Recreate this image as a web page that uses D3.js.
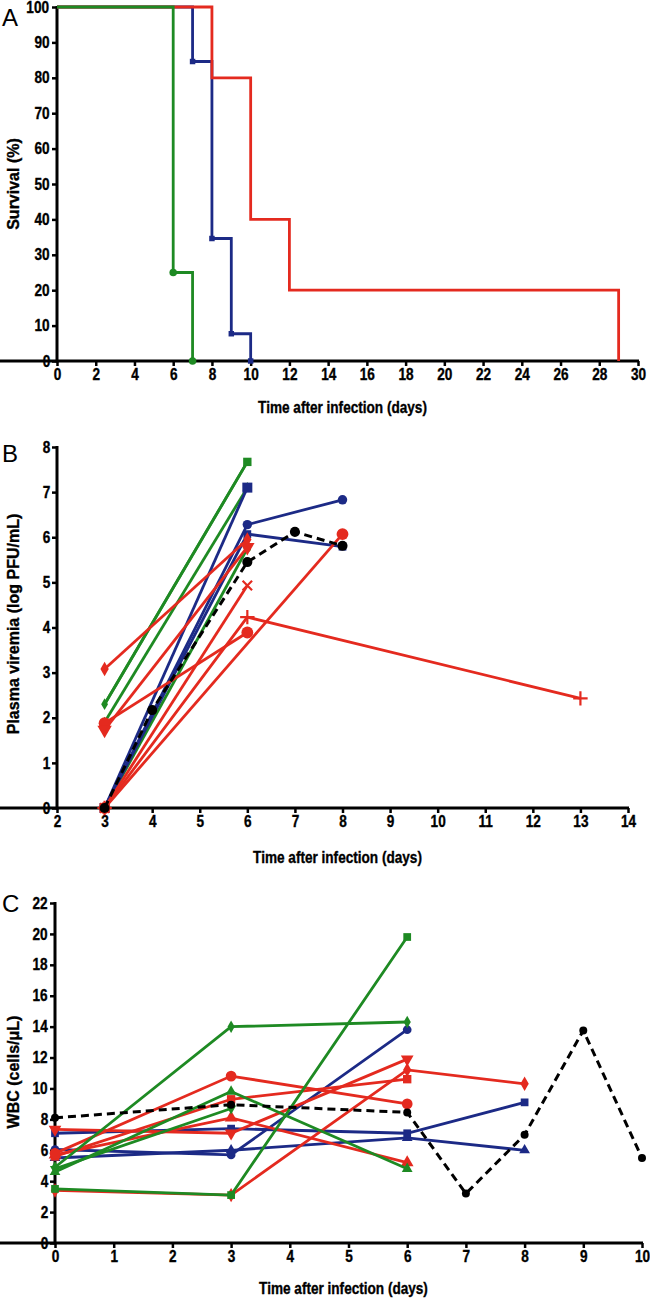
<!DOCTYPE html>
<html><head><meta charset="utf-8">
<script src="https://cdn.jsdelivr.net/npm/d3@7"></script>
<style>
body{margin:0;background:#fff;}
svg text{font-family:"Liberation Sans",Arial,sans-serif;font-weight:bold;}
svg text.nar{transform-box:fill-box;transform-origin:center;transform:scaleX(0.85);stroke:#000;stroke-width:0.35px;}
svg text.ytl{stroke:#000;stroke-width:0.35px;}
</style></head><body>
<svg id="c" width="650" height="1299"></svg>
<script>
// ---------- Panel A: survival (Kaplan-Meier) ----------
const aXTicks = d3.range(0, 31, 2);
const aYTicks = d3.range(0, 101, 10);
const aGreenDays = [0, 6, 7];
const aGreenSurv = [100, 25, 0];
const aBlueDays = [0, 7, 8, 9, 10];
const aBlueSurv = [100, 84.6, 34.6, 7.7, 0];
const aRedDays = [0, 8, 10, 12, 29];
const aRedSurv = [100, 80, 40, 20, 0];

// ---------- Panel B: plasma viremia ----------
const bXTicks = d3.range(2, 15, 1);
const bYTicks = d3.range(0, 9, 1);
const bG1Days = [3, 6],      bG1Vals = [2.30, 7.67];
const bG2Days = [3, 6],      bG2Vals = [1.90, 7.10];
const bG3Days = [3, 6],      bG3Vals = [0, 5.75];
const bB1Days = [3, 6],      bB1Vals = [0, 7.10];
const bB2Days = [3, 6, 8],   bB2Vals = [0, 6.28, 6.83];
const bB3Days = [3, 6, 8],   bB3Vals = [0, 6.07, 5.79];
const bR1Days = [3, 6],      bR1Vals = [3.08, 5.95];
const bR2Days = [3, 6],      bR2Vals = [1.73, 5.78];
const bR3Days = [3, 6],      bR3Vals = [1.88, 3.89];
const bR4Days = [3, 8],      bR4Vals = [0, 6.07];
const bR5Days = [3, 6],      bR5Vals = [0, 4.93];
const bR6Days = [3, 6, 13],  bR6Vals = [0, 4.23, 2.43];
const bKDays = [3, 4, 6, 7, 8], bKVals = [0, 2.17, 5.45, 6.12, 5.81];

// ---------- Panel C: WBC ----------
const cXTicks = d3.range(0, 11, 1);
const cYTicks = d3.range(0, 23, 2);
const cG1Days = [0, 3, 6],   cG1Vals = [3.5, 3.1, 19.8];
const cG2Days = [0, 3, 6],   cG2Vals = [4.9, 14.0, 14.3];
const cG3Days = [0, 3, 6],   cG3Vals = [4.6, 9.8, 4.8];
const cG4Days = [0, 3],      cG4Vals = [4.8, 8.7];
const cB1Days = [0, 3, 6, 8], cB1Vals = [7.1, 7.4, 7.1, 9.1];
const cB2Days = [0, 3, 6],   cB2Vals = [6.05, 5.7, 13.8];
const cB3Days = [0, 3, 6, 8], cB3Vals = [5.5, 6.0, 6.8, 6.0];
const cR1Days = [0, 3, 6],   cR1Vals = [5.8, 10.8, 9.0];
const cR2Days = [0, 3, 6],   cR2Vals = [5.6, 9.3, 10.6];
const cR3Days = [0, 3, 6],   cR3Vals = [5.7, 8.1, 5.2];
const cR4Days = [0, 3, 6],   cR4Vals = [7.35, 7.1, 11.9];
const cR5Days = [0, 3, 6, 8], cR5Vals = [3.4, 3.1, 11.2, 10.3];
const cKDays = [0, 3, 6, 7, 8, 9, 10], cKVals = [8.1, 8.95, 8.45, 3.2, 7.0, 13.75, 5.5];

const GREEN = "#1e8a23", BLUE = "#1c2a86", RED = "#e42a1f", BLACK = "#000";

const svg = d3.select("#c");

function panel(cfg) {
  const x = d3.scaleLinear().domain(cfg.xDom).range(cfg.xRange);
  const y = d3.scaleLinear().domain(cfg.yDom).range(cfg.yRange);
  const g = svg.append("g");
  const xa = g.append("g").attr("transform", `translate(0,${cfg.yRange[0]})`)
    .call(d3.axisBottom(x).tickValues(cfg.xTicks).tickSize(5).tickPadding(3).tickFormat(d3.format("d")));
  const ya = g.append("g").attr("transform", `translate(${cfg.xRange[0]},0)`)
    .call(d3.axisLeft(y).tickValues(cfg.yTicks).tickSize(5).tickPadding(1).tickFormat(d3.format("d")));
  [xa, ya].forEach(a => {
    a.select(".domain").attr("stroke", "#000").attr("stroke-width", 3);
    a.selectAll(".tick line").attr("stroke", "#000").attr("stroke-width", 2.5);
    a.selectAll(".tick text").attr("font-size", 16).attr("fill", "#000").attr("class", "nar");
  });
  ya.select(".domain").attr("d", `M0,${cfg.yRange[0] + 1.5}V${cfg.yRange[1] - 1}`);
  xa.select(".domain").attr("d", `M-1.5,0H${cfg.xRange[1] + 1}`);
  g.append("text").attr("class", "nar").attr("x", (cfg.xRange[0] + cfg.xRange[1]) / 2 - 5).attr("y", cfg.xTitleY)
    .attr("text-anchor", "middle").attr("font-size", 16).text(cfg.xTitle);
  g.append("g").attr("transform", `translate(${cfg.yTitleX},${cfg.yTitleY}) rotate(-90)`)
    .append("text").attr("class", "ytl")
    .attr("text-anchor", "middle").attr("font-size", 16).text(cfg.yTitle);
  g.append("text").attr("x", 2).attr("y", cfg.letterY).attr("font-size", 24)
    .style("font-weight", "normal").text(cfg.letter);
  const layer = svg.append("g");
  return {x, y, layer};
}

const symMap = {
  circle: d3.symbolCircle, square: d3.symbolSquare, triangle: d3.symbolTriangle,
  triDown: d3.symbolTriangle, diamond: d3.symbolDiamond, plus: d3.symbolPlus, times: d3.symbolTimes
};

function series(p, days, vals, color, marker, size, opts = {}) {
  const pts = days.map((d, i) => [d, vals[i]]);
  const line = d3.line().x(d => p.x(d[0])).y(d => p.y(d[1]));
  if (opts.step) line.curve(d3.curveStepAfter);
  p.layer.append("path").attr("d", line(pts)).attr("fill", "none")
    .attr("stroke", color).attr("stroke-width", opts.width || 2.8)
    .attr("stroke-dasharray", opts.dash || null).attr("stroke-linejoin", "miter");
  if (!marker) return;
  const mpts = opts.markIdx ? opts.markIdx.map(i => pts[i]) : pts;
  const stroked = marker === "plus" || marker === "times";
  p.layer.selectAll(null).data(mpts).join("path")
    .attr("d", d3.symbol().type(symMap[marker]).size(size))
    .attr("transform", d => `translate(${p.x(d[0])},${p.y(d[1])})${marker === "triDown" ? " rotate(180)" : ""}`)
    .attr("fill", stroked ? "none" : color)
    .attr("stroke", color).attr("stroke-width", stroked ? 2.2 : 0);
}

// Panel A
const pA = panel({
  xDom: [0, 30], xRange: [57, 638], yDom: [0, 100], yRange: [361, 7],
  xTicks: aXTicks, yTicks: aYTicks, xTitle: "Time after infection (days)", xTitleY: 413,
  yTitle: "Survival (%)", yTitleX: 19, yTitleY: 184, letter: "A", letterY: 26
});
series(pA, aBlueDays, aBlueSurv, BLUE, "square", 30, {step: true, markIdx: [1, 2, 3, 4]});
series(pA, aRedDays, aRedSurv, RED, null, 0, {step: true});
series(pA, aGreenDays, aGreenSurv, GREEN, "circle", 45, {step: true, markIdx: [1, 2]});

// Panel B
const pB = panel({
  xDom: [2, 14], xRange: [57, 628], yDom: [0, 8], yRange: [808, 447],
  xTicks: bXTicks, yTicks: bYTicks, xTitle: "Time after infection (days)", xTitleY: 863,
  yTitle: "Plasma viremia (log PFU/mL)", yTitleX: 19, yTitleY: 624, letter: "B", letterY: 462
});
series(pB, bG3Days, bG3Vals, GREEN, "circle", 40);
series(pB, bG2Days, bG2Vals, GREEN, "triangle", 40);
series(pB, bG1Days, bG1Vals, GREEN, "diamond", 40, {markIdx: [0]});
series(pB, bG1Days, bG1Vals, GREEN, "square", 70, {markIdx: [1]});
series(pB, bB3Days, bB3Vals, BLUE, "square", 60);
series(pB, bB2Days, bB2Vals, BLUE, "circle", 70);
series(pB, bB1Days, bB1Vals, BLUE, "square", 100);
series(pB, bR6Days, bR6Vals, RED, "plus", 70);
series(pB, bR5Days, bR5Vals, RED, "times", 60);
series(pB, bR4Days, bR4Vals, RED, "circle", 110);
series(pB, bR3Days, bR3Vals, RED, "circle", 110);
series(pB, bR2Days, bR2Vals, RED, "triDown", 90);
series(pB, bR1Days, bR1Vals, RED, "diamond", 60);
series(pB, bKDays, bKVals, BLACK, "circle", 80, {dash: "8,5", width: 3});

// Panel C
const pC = panel({
  xDom: [0, 10], xRange: [55, 642], yDom: [0, 22], yRange: [1243, 903],
  xTicks: cXTicks, yTicks: cYTicks, xTitle: "Time after infection (days)", xTitleY: 1294,
  yTitle: "WBC (cells/\u03bcL)", yTitleX: 19, yTitleY: 1072, letter: "C", letterY: 912
});
series(pC, cB3Days, cB3Vals, BLUE, "triangle", 50);
series(pC, cB2Days, cB2Vals, BLUE, "circle", 60);
series(pC, cB1Days, cB1Vals, BLUE, "square", 60);
series(pC, cR5Days, cR5Vals, RED, "diamond", 60);
series(pC, cR4Days, cR4Vals, RED, "triDown", 70);
series(pC, cR3Days, cR3Vals, RED, "triangle", 70);
series(pC, cR2Days, cR2Vals, RED, "square", 70);
series(pC, cR1Days, cR1Vals, RED, "circle", 90);
series(pC, cG4Days, cG4Vals, GREEN, "triDown", 45);
series(pC, cG3Days, cG3Vals, GREEN, "triangle", 50);
series(pC, cG2Days, cG2Vals, GREEN, "diamond", 45);
series(pC, cG1Days, cG1Vals, GREEN, "square", 60);
series(pC, cKDays, cKVals, BLACK, "circle", 50, {dash: "8,5", width: 3});
</script>
</body></html>
